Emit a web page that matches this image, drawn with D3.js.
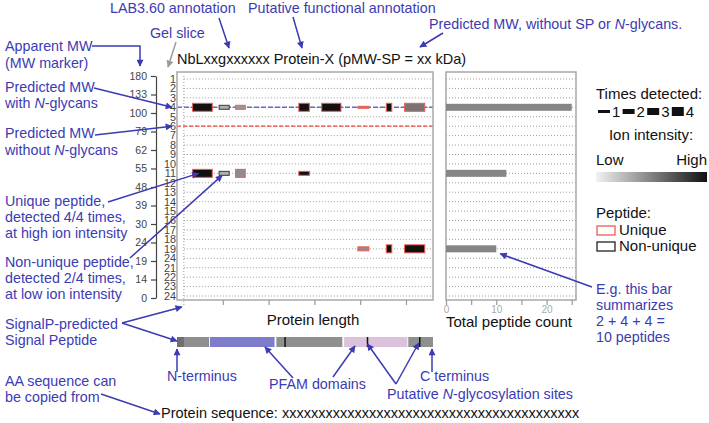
<!DOCTYPE html>
<html>
<head>
<meta charset="utf-8">
<script src="https://cdn.jsdelivr.net/npm/d3@7/dist/d3.min.js"></script>
<style>
  body { margin: 0; background: #fff; }
  svg { font-family: "Liberation Sans", Arial, sans-serif; }
</style>
</head>
<body>
<svg id="chart" width="709" height="423"></svg>
<script>
// gel slice labels as printed (slice 20 carries "24" in the original)
var sliceLabels = ["1","2","3","4","5","6","7","8","9","10","11","12","13","14","15","16","17","18","19","24","21","22","23","24"];
var mwLabels = ["180","133","100","79","62","55","48","39","30","24","19","14","0"];

var proteinLength = 559;
var signalPeptideEnd = 15;
var glycoSites = [236, 416, 530];
var segStart = [0, 72, 217, 365, 505];
var segEnd   = [70, 213, 361, 503, 559];
var segKind  = ["plain", "pfamA", "plain", "pfamB", "plain"];

var predMwGlycoSlice = 4;   // predicted MW with N-glycans
var predMwSlice = 6;        // predicted MW without N-glycans

// peptides: gel slice, start/end (AA), times detected (of 4), ion intensity (0-1), unique?
var pepSlice     = [4, 4, 4, 4, 4, 4, 4, 4, 11, 11, 11, 11, 19, 19, 19];
var pepStart     = [34, 92, 128, 266, 316, 395, 457, 497, 34, 92, 128, 266, 395, 457, 497];
var pepEnd       = [77, 114, 149, 289, 358, 419, 469, 541, 77, 114, 149, 289, 419, 469, 541];
var pepTimes     = [4, 2, 2, 4, 4, 1, 4, 4, 4, 2, 4, 2, 2, 4, 4];
var pepIntensity = [1, 0.3, 0.4, 1, 1, 0.45, 1, 0.55, 1, 0.3, 0.45, 1, 0.45, 1, 1];
var pepUnique    = [1, 0, 1, 1, 1, 1, 1, 1, 1, 0, 1, 1, 1, 1, 1];

var countTicks = [0, 5, 10, 15, 20, 25];
var lengthTicks = [100, 200, 300, 400, 500];
var legendTimes = [1, 2, 3, 4];

var blue = "#3b3bb3";
var noteSize = 14.3;
var svg = d3.select("#chart");

var x = d3.scaleLinear().domain([0, proteinLength]).range([177, 433]);
var y = d3.scalePoint().domain(d3.range(1, 25)).range([79, 296]);
var xc = d3.scaleLinear().domain([0, 25.85]).range([446, 576]);
var mw = d3.scalePoint().domain(mwLabels).range([76, 298]);
var shade = d3.scaleLinear().domain([0, 1]).range(["#f2f2f2", "#111"]);
var pepH = function(t) { return t * 2; };

var peptides = pepSlice.map(function(s, i) {
  return { slice: s, start: pepStart[i], end: pepEnd[i], times: pepTimes[i],
           intensity: pepIntensity[i], unique: pepUnique[i] };
});
var counts = d3.rollups(peptides, function(v) { return d3.sum(v, function(d) { return d.times; }); }, function(d) { return d.slice; });

// arrow markers + gradient
var defs = svg.append("defs");
[["arrowBlue", blue], ["arrowGray", "#9a9a9a"]].forEach(function(m) {
  defs.append("marker").attr("id", m[0]).attr("viewBox", "0 0 10 10")
      .attr("refX", 9).attr("refY", 5).attr("markerWidth", 8).attr("markerHeight", 7)
      .attr("markerUnits", "userSpaceOnUse").attr("orient", "auto")
    .append("path").attr("d", "M0,0L10,5L0,10z").attr("fill", m[1]);
});
var grad = defs.append("linearGradient").attr("id", "ionGrad");
grad.append("stop").attr("offset", "0%").attr("stop-color", shade(0));
grad.append("stop").attr("offset", "100%").attr("stop-color", shade(1));

// ---- gridlines
var grid = svg.append("g").attr("stroke", "#9c9c9c").attr("stroke-dasharray", "1,2");
grid.selectAll("line.m").data(y.domain()).join("line").attr("class", "m")
    .attr("x1", x(signalPeptideEnd)).attr("x2", x(proteinLength))
    .attr("y1", function(d) { return y(d); }).attr("y2", function(d) { return y(d); });
grid.selectAll("line.c").data(y.domain()).join("line").attr("class", "c")
    .attr("x1", xc(0)).attr("x2", 576)
    .attr("y1", function(d) { return y(d); }).attr("y2", function(d) { return y(d); });
// signal peptide marker
svg.append("line").attr("x1", x(signalPeptideEnd)).attr("x2", x(signalPeptideEnd))
   .attr("y1", 76).attr("y2", 307).attr("stroke", "#999").attr("stroke-dasharray", "1,2");

// predicted MW lines
svg.append("line").attr("x1", x(0)).attr("x2", x(proteinLength))
   .attr("y1", y(predMwGlycoSlice)).attr("y2", y(predMwGlycoSlice))
   .attr("stroke", "#6a6ac8").attr("stroke-width", 1.6).attr("stroke-dasharray", "5,2");
svg.append("line").attr("x1", x(0)).attr("x2", x(proteinLength))
   .attr("y1", y(predMwSlice)).attr("y2", y(predMwSlice))
   .attr("stroke", "#e8463c").attr("stroke-width", 1.4).attr("stroke-dasharray", "4,2");

// ---- frames
svg.append("rect").attr("x", x(0)).attr("y", 72).attr("width", x(proteinLength) - x(0)).attr("height", 228)
   .attr("fill", "none").attr("stroke", "#a8a8a8").attr("stroke-width", 1.5);
svg.append("rect").attr("x", xc(0)).attr("y", 72).attr("width", 130).attr("height", 228)
   .attr("fill", "none").attr("stroke", "#a8a8a8").attr("stroke-width", 1.5);

// ---- peptides
svg.append("g").selectAll("rect").data(peptides).join("rect")
   .attr("x", function(d) { return x(d.start); })
   .attr("width", function(d) { return x(d.end) - x(d.start); })
   .attr("y", function(d) { return y(d.slice) - pepH(d.times) / 2; })
   .attr("height", function(d) { return pepH(d.times); })
   .attr("fill", function(d) { return shade(d.intensity); })
   .attr("stroke", function(d) { return d.unique ? "#ee5b52" : "#3a3a3a"; })
   .attr("stroke-width", 1);

// ---- count bars
svg.append("g").selectAll("rect").data(counts).join("rect")
   .attr("x", xc(0)).attr("y", function(d) { return y(d[0]) - 3.5; })
   .attr("width", function(d) { return xc(d[1]) - xc(0); }).attr("height", 7)
   .attr("fill", "#858585");

// ---- axes
var lenAxis = svg.append("g").attr("transform", "translate(0,300)")
   .call(d3.axisBottom(x).tickValues(lengthTicks).tickSize(5).tickFormat(""));
lenAxis.select(".domain").remove();
lenAxis.selectAll("line").attr("stroke", "#999").attr("stroke-width", 1.2);

var cAxis = svg.append("g").attr("transform", "translate(0,300)")
   .call(d3.axisBottom(xc).tickValues(countTicks).tickSize(5).tickPadding(1)
   .tickFormat(function(d) { return d % 10 === 0 ? d : ""; }));
cAxis.select(".domain").remove();
cAxis.selectAll("line").attr("stroke", "#999").attr("stroke-width", 1.2);
cAxis.selectAll("text").attr("fill", "#aaa").attr("font-size", 10).attr("font-family", "Liberation Sans, Arial, sans-serif");

var mwAxis = svg.append("g").attr("transform", "translate(156,0)")
   .call(d3.axisLeft(mw).tickSize(5).tickSizeOuter(0).tickPadding(4));
mwAxis.selectAll("line, path").attr("stroke", "#444").attr("stroke-width", 1.2);
mwAxis.selectAll("text").attr("fill", "#444").attr("font-size", 10.5).attr("font-family", "Liberation Sans, Arial, sans-serif");

// slice labels
svg.append("g").selectAll("text").data(sliceLabels).join("text")
   .attr("x", 176).attr("y", function(d, i) { return y(i + 1); }).attr("dy", "0.36em")
   .attr("text-anchor", "end").attr("font-size", 10.8).attr("fill", "#444")
   .text(function(d) { return d; });

// ---- protein bar
var segColor = { plain: "#8f8f8f", pfamA: "#7d7dcc", pfamB: "#dcc1dc" };
var bar = svg.append("g");
bar.selectAll("rect").data(segStart).join("rect")
   .attr("x", function(d) { return x(d); })
   .attr("width", function(d, i) { return x(segEnd[i]) - x(d); })
   .attr("y", 337).attr("height", 10)
   .attr("fill", function(d, i) { return segColor[segKind[i]]; });
bar.append("rect").attr("x", x(0)).attr("width", x(signalPeptideEnd) - x(0))
   .attr("y", 337).attr("height", 10).attr("fill", "#6f6f6f");
bar.selectAll("line").data(glycoSites).join("line")
   .attr("x1", function(d) { return x(d); }).attr("x2", function(d) { return x(d); })
   .attr("y1", 337).attr("y2", 347).attr("stroke", "#111").attr("stroke-width", 1.5);

// ---- black texts
var txt = function(x0, y0, s, opt) {
  opt = opt || {};
  return svg.append("text").attr("x", x0).attr("y", y0)
     .attr("font-size", opt.size || 15).attr("fill", opt.fill || "#111")
     .attr("text-anchor", opt.anchor || "start").text(s);
};
txt(177, 64, "NbLxxgxxxxxx Protein-X (pMW-SP = xx kDa)", { size: 14.5 });
txt(313, 325, "Protein length", { anchor: "middle" });
txt(446, 327, "Total peptide count");
txt(161, 418, "Protein sequence: " + "x".repeat(41), { size: 14.5 });

// ---- legend
txt(596, 99, "Times detected:");
var lg = svg.append("g").selectAll("g").data(legendTimes).join("g")
   .attr("transform", function(d, i) { return "translate(" + (598 + i * 24.6) + ",111.5)"; });
lg.append("rect").attr("x", 0).attr("y", function(d) { return -pepH(d) / 2 - 0.5; })
   .attr("width", 12)
   .attr("height", function(d) { return pepH(d) + 1; }).attr("fill", "#111");
lg.append("text").attr("x", 14).attr("y", 5).attr("font-size", 15).attr("fill", "#111")
   .text(function(d) { return d; });
txt(651, 140, "Ion intensity:", { anchor: "middle" });
txt(596, 165, "Low");
txt(707, 165, "High", { anchor: "end" });
svg.append("rect").attr("x", 596).attr("y", 172).attr("width", 111).attr("height", 10)
   .attr("fill", "url(#ionGrad)");
txt(596, 218, "Peptide:");
[["Unique", "#ee5b52", 226, 235], ["Non-unique", "#222", 242, 251]].forEach(function(r) {
  svg.append("rect").attr("x", 597).attr("y", r[2]).attr("width", 18).attr("height", 9)
     .attr("fill", "#fff").attr("stroke", r[1]).attr("stroke-width", 1.3);
  txt(619, r[3], r[0]);
});

// ---- blue annotations
var notes = [
  [110, 13, ["LAB3.60 annotation"]],
  [248, 13, ["Putative functional annotation"]],
  [429, 29, ["Predicted MW, without SP or ", ["N"], "-glycans."]],
  [150, 38, ["Gel slice"]],
  [5, 51, ["Apparent MW"]],
  [5, 68, ["(MW marker)"]],
  [5, 92, ["Predicted MW"]],
  [5, 108, ["with ", ["N"], "-glycans"]],
  [5, 138, ["Predicted MW"]],
  [5, 155, ["without ", ["N"], "-glycans"]],
  [5, 206, ["Unique peptide,"]],
  [5, 222, ["detected 4/4 times,"]],
  [5, 238, ["at high ion intensity"]],
  [5, 267, ["Non-unique peptide,"]],
  [5, 283, ["detected 2/4 times,"]],
  [5, 299, ["at low ion intensity"]],
  [5, 329, ["SignalP-predicted"]],
  [5, 345, ["Signal Peptide"]],
  [5, 386, ["AA sequence can"]],
  [5, 402, ["be copied from"]],
  [167, 381, ["N-terminus"]],
  [269, 389, ["PFAM domains"]],
  [420, 381, ["C terminus"]],
  [387, 399, ["Putative ", ["N"], "-glycosylation sites"]],
  [596, 294, ["E.g. this bar"]],
  [596, 310, ["summarizes"]],
  [596, 326, ["2 + 4 + 4 ="]],
  [596, 342, ["10 peptides"]]
];
notes.forEach(function(n) {
  var t = svg.append("text").attr("x", n[0]).attr("y", n[1]).attr("font-size", noteSize).attr("fill", blue);
  n[2].forEach(function(p) {
    if (typeof p === "string") t.append("tspan").text(p);
    else t.append("tspan").attr("font-style", "italic").text(p[0]);
  });
});

var arrows = [
  [[219, 18], [229, 48]],
  [[293, 17], [302, 48]],
  [[443, 33], [420, 47]],
  [[92, 46], [140, 46], [140, 66]],
  [[94, 88], [x(0) - 5, y(predMwGlycoSlice)]],
  [[95, 135], [x(0) - 5, y(predMwSlice)]],
  [[108, 202], [x(pepStart[8]) + 6, y(11)]],
  [[130, 258], [x(pepStart[9]) + 3, y(11) + 2]],
  [[122, 323], [x(signalPeptideEnd) - 2, 307]],
  [[122, 323], [x(0), 341]],
  [[x(0), 372], [x(0), 349]],
  [[293, 378], [265, 347]],
  [[333, 377], [355, 346]],
  [[396, 384], [x(glycoSites[1]), 344]],
  [[396, 384], [x(glycoSites[2]) - 1, 343]],
  [[x(proteinLength) - 1, 372], [x(proteinLength) - 1, 349]],
  [[101, 394], [160, 414]],
  [[592, 287], [xc(counts[2][1]) + 4, y(19) + 5]]
];
var line = d3.line();
svg.append("g").selectAll("path").data(arrows).join("path")
   .attr("d", line).attr("fill", "none").attr("stroke", blue).attr("stroke-width", 1.5)
   .attr("marker-end", "url(#arrowBlue)");
svg.append("path").attr("d", line([[176, 42], [168, 67]])).attr("fill", "none")
   .attr("stroke", "#9a9a9a").attr("stroke-width", 1.5).attr("marker-end", "url(#arrowGray)");
</script>
</body>
</html>
